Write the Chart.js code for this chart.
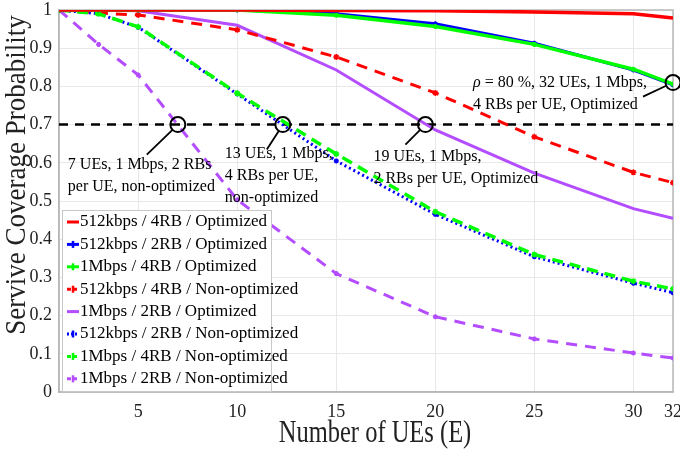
<!DOCTYPE html>
<html>
<head>
<meta charset="utf-8">
<script src="https://cdn.jsdelivr.net/npm/chart.js@4/dist/chart.umd.min.js"></script>
<style>
  html, body { margin: 0; padding: 0; background: #fff; }
  #wrap { width: 680px; height: 456px; position: relative; }
</style>
</head>
<body>
<div id="wrap"><canvas id="coverageChart" width="680" height="456"></canvas></div>
<script>
// number of UEs where the curves were sampled
const numUEs = [1, 3, 5, 10, 15, 20, 25, 30, 32];
const xTickValues = [5, 10, 15, 20, 25, 30, 32];

const rate512k4rbOpt = [1, 1, 1, 1, 0.999, 0.998, 0.995, 0.99, 0.979];
const rate512k2rbOpt = [1, 1, 1, 1, 0.99, 0.964, 0.913, 0.843, 0.804];
const rate1m4rbOpt = [1, 1, 1, 1, 0.986, 0.957, 0.91, 0.845, 0.806];
const rate512k4rbNonOpt = [1, 0.992, 0.987, 0.948, 0.877, 0.783, 0.668, 0.575, 0.548];
const rate1m2rbOpt = [1, 1, 0.998, 0.96, 0.843, 0.686, 0.573, 0.48, 0.455];
const rate512k2rbNonOpt = [1, 0.99, 0.955, 0.78, 0.605, 0.465, 0.354, 0.285, 0.26];
const rate1m4rbNonOpt = [1, 0.99, 0.956, 0.782, 0.623, 0.472, 0.36, 0.29, 0.27];
const rate1m2rbNonOpt = [1, 0.91, 0.83, 0.503, 0.31, 0.197, 0.139, 0.102, 0.089];

const threshold = 0.7;

const xTitle = "Number of UEs (E)";
const yTitle = "Servive Coverage Probability";

// circled points with their notes
const noteX = [7, 12.3, 19.5, 32];
const noteY = [0.7, 0.7, 0.7, 0.81];
const noteText = [
  ["7 UEs, 1 Mbps, 2 RBs", "per UE, non-optimized"],
  ["13 UEs, 1 Mbps,", "4 RBs per UE,", "non-optimized"],
  ["19 UEs, 1 Mbps,", "2 RBs per UE, Optimized"],
  ["= 80 %, 32 UEs, 1 Mbps,", "4 RBs per UE, Optimized"]
];

const RED = "#ff0000", BLUE = "#0000ff", GREEN = "#00ff00", PURPLE = "#b34dff";
const SERIF = "'Liberation Serif', 'DejaVu Serif', serif";

function series(label, values, color, opts) {
  return Object.assign({
    label: label,
    data: values.map((v, i) => ({x: numUEs[i], y: v})),
    borderColor: color,
    backgroundColor: color,
    borderWidth: 3,
    pointRadius: 0,
    pointStyle: "star",
    pointBorderWidth: 1.5,
    fill: false,
    tension: 0
  }, opts || {});
}

const datasets = [
  series("512kbps / 4RB / Optimized", rate512k4rbOpt, RED, {order: 0, borderWidth: 3.5}),
  series("512kbps / 2RB / Optimized", rate512k2rbOpt, BLUE, {order: 2, borderWidth: 3, pointRadius: 2.5}),
  series("1Mbps / 4RB / Optimized", rate1m4rbOpt, GREEN, {order: 1, borderWidth: 3.5, pointRadius: 2.5}),
  series("512kbps / 4RB / Non-optimized", rate512k4rbNonOpt, RED, {order: 5, borderDash: [11, 8], pointRadius: 3}),
  series("1Mbps / 2RB / Optimized", rate1m2rbOpt, PURPLE, {order: 6}),
  series("512kbps / 2RB / Non-optimized", rate512k2rbNonOpt, BLUE, {order: 4, borderDash: [2, 3], pointRadius: 2.5}),
  series("1Mbps / 4RB / Non-optimized", rate1m4rbNonOpt, GREEN, {order: 3, borderDash: [11, 7], borderWidth: 3.5, pointRadius: 3}),
  series("1Mbps / 2RB / Non-optimized", rate1m2rbNonOpt, PURPLE, {order: 7, borderDash: [11, 8], pointRadius: 2.5})
];

const thresholdLine = {
  label: "threshold",
  data: [{x: numUEs[0], y: threshold}, {x: numUEs[numUEs.length - 1], y: threshold}],
  borderColor: "#000",
  borderWidth: 2.5,
  borderDash: [9, 7],
  pointRadius: 0,
  order: 8
};

// box, circles, pointer lines, notes, legend and axis titles
const notesPlugin = {
  id: "notes",
  beforeDatasetsDraw(chart) {
    const ctx = chart.ctx;
    const a = chart.chartArea;
    ctx.save();
    ctx.strokeStyle = "#b8b8b8";
    ctx.lineWidth = 1.5;
    ctx.strokeRect(a.left, a.top, a.right - a.left, a.bottom - a.top);
    ctx.restore();
  },
  afterDatasetsDraw(chart) {
    const ctx = chart.ctx;
    const xs = chart.scales.x, ys = chart.scales.y;
    // text offsets from the circle, pointer end offsets
    const textOff = [[-110, 40], [-58, 29], [-52, 32], [-200, 0]];
    const lineOff = [[-31, 30], [-16, 25], [-20, 20], [-30, 14]];
    ctx.save();
    for (let i = 0; i < noteX.length; i++) {
      const cx = xs.getPixelForValue(noteX[i]);
      const cy = ys.getPixelForValue(noteY[i]);
      ctx.strokeStyle = "#000";
      ctx.lineWidth = 2;
      ctx.beginPath();
      ctx.arc(cx, cy, 7.5, 0, Math.PI * 2);
      ctx.stroke();
      const ang = Math.atan2(lineOff[i][1], lineOff[i][0]);
      ctx.lineWidth = 1.8;
      ctx.beginPath();
      ctx.moveTo(cx + Math.cos(ang) * 7.5, cy + Math.sin(ang) * 7.5);
      ctx.lineTo(cx + lineOff[i][0], cy + lineOff[i][1]);
      ctx.stroke();

      ctx.fillStyle = "#000";
      ctx.font = "16px " + SERIF;
      ctx.textAlign = "left";
      ctx.textBaseline = "middle";
      const tx = cx + textOff[i][0];
      const ty = cy + textOff[i][1];
      noteText[i].forEach((line, k) => {
        let lx = tx;
        if (i === 3 && k === 0) {
          ctx.font = "italic 16px " + SERIF;
          ctx.fillText("\u03c1", lx, ty);
          lx += ctx.measureText("\u03c1 ").width;
          ctx.font = "16px " + SERIF;
        }
        ctx.fillText(line, lx, ty + k * 22);
      });
    }
    ctx.restore();
  },
  afterDraw(chart) {
    const ctx = chart.ctx;
    const area = chart.chartArea;
    // legend box in lower left
    const bx = area.left + 3, by = 210, bw = 210, bh = area.bottom - by;
    ctx.save();
    ctx.fillStyle = "#fff";
    ctx.fillRect(bx, by, bw, bh);
    ctx.strokeStyle = "#c8c8c8";
    ctx.lineWidth = 1;
    ctx.strokeRect(bx + 0.5, by + 0.5, bw - 1, bh - 1);
    ctx.font = "17px " + SERIF;
    ctx.textBaseline = "middle";
    ctx.textAlign = "left";
    datasets.forEach((ds, i) => {
      const y = by + 12 + i * 22.4;
      ctx.strokeStyle = ds.borderColor;
      ctx.lineWidth = 3;
      ctx.setLineDash(ds.borderDash ? [Math.min(ds.borderDash[0], 4), 2] : []);
      ctx.beginPath();
      ctx.moveTo(bx + 5, y);
      ctx.lineTo(bx + 17, y);
      ctx.stroke();
      ctx.setLineDash([]);
      if (ds.pointRadius > 0) {
        ctx.lineWidth = 2.5;
        ctx.beginPath();
        ctx.moveTo(bx + 11, y - 3.5);
        ctx.lineTo(bx + 11, y + 3.5);
        ctx.stroke();
      }
      ctx.fillStyle = "#000";
      ctx.fillText(ds.label, bx + 18, y);
    });

    // axis titles, tall narrow serif like the original
    ctx.fillStyle = "#222";
    ctx.textAlign = "center";
    ctx.textBaseline = "alphabetic";
    ctx.font = "24.5px " + SERIF;
    ctx.save();
    ctx.translate((area.left + area.right) / 2 + 9, 442);
    ctx.scale(1, 1.3);
    ctx.fillText(xTitle, 0, 0);
    ctx.restore();

    ctx.font = "27px " + SERIF;
    ctx.save();
    ctx.translate(25, 175);
    ctx.rotate(-Math.PI / 2);
    ctx.scale(1, 1.1);
    ctx.fillText(yTitle, 0, 0);
    ctx.restore();
    ctx.restore();
  }
};

new Chart(document.getElementById("coverageChart"), {
  type: "line",
  data: {datasets: datasets.concat([thresholdLine])},
  options: {
    responsive: false,
    animation: false,
    layout: {padding: {top: 10, right: 7, left: 0, bottom: 0}},
    plugins: {
      legend: {display: false},
      tooltip: {enabled: false}
    },
    scales: {
      x: {
        type: "linear",
        min: 1,
        max: 32,
        afterBuildTicks: scale => { scale.ticks = xTickValues.map(v => ({value: v})); },
        afterFit: scale => { scale.height = 64; scale.paddingRight = 0; scale.paddingLeft = 0; },
        grid: {color: "#e8e8e8", drawTicks: false},
        border: {color: "#b0b0b0", width: 1.5},
        ticks: {color: "#222", padding: 9, maxRotation: 0, font: {family: SERIF, size: 18}}
      },
      y: {
        min: 0,
        max: 1,
        afterFit: scale => { scale.width = 59; scale.paddingTop = 0; scale.paddingBottom = 0; },
        grid: {color: "#e8e8e8", drawTicks: false},
        border: {color: "#b0b0b0", width: 1.5},
        ticks: {
          stepSize: 0.1, color: "#222", padding: 7, font: {family: SERIF, size: 18},
          callback: v => String(Math.round(v * 10) / 10)
        }
      }
    }
  },
  plugins: [notesPlugin]
});
</script>
</body>
</html>
